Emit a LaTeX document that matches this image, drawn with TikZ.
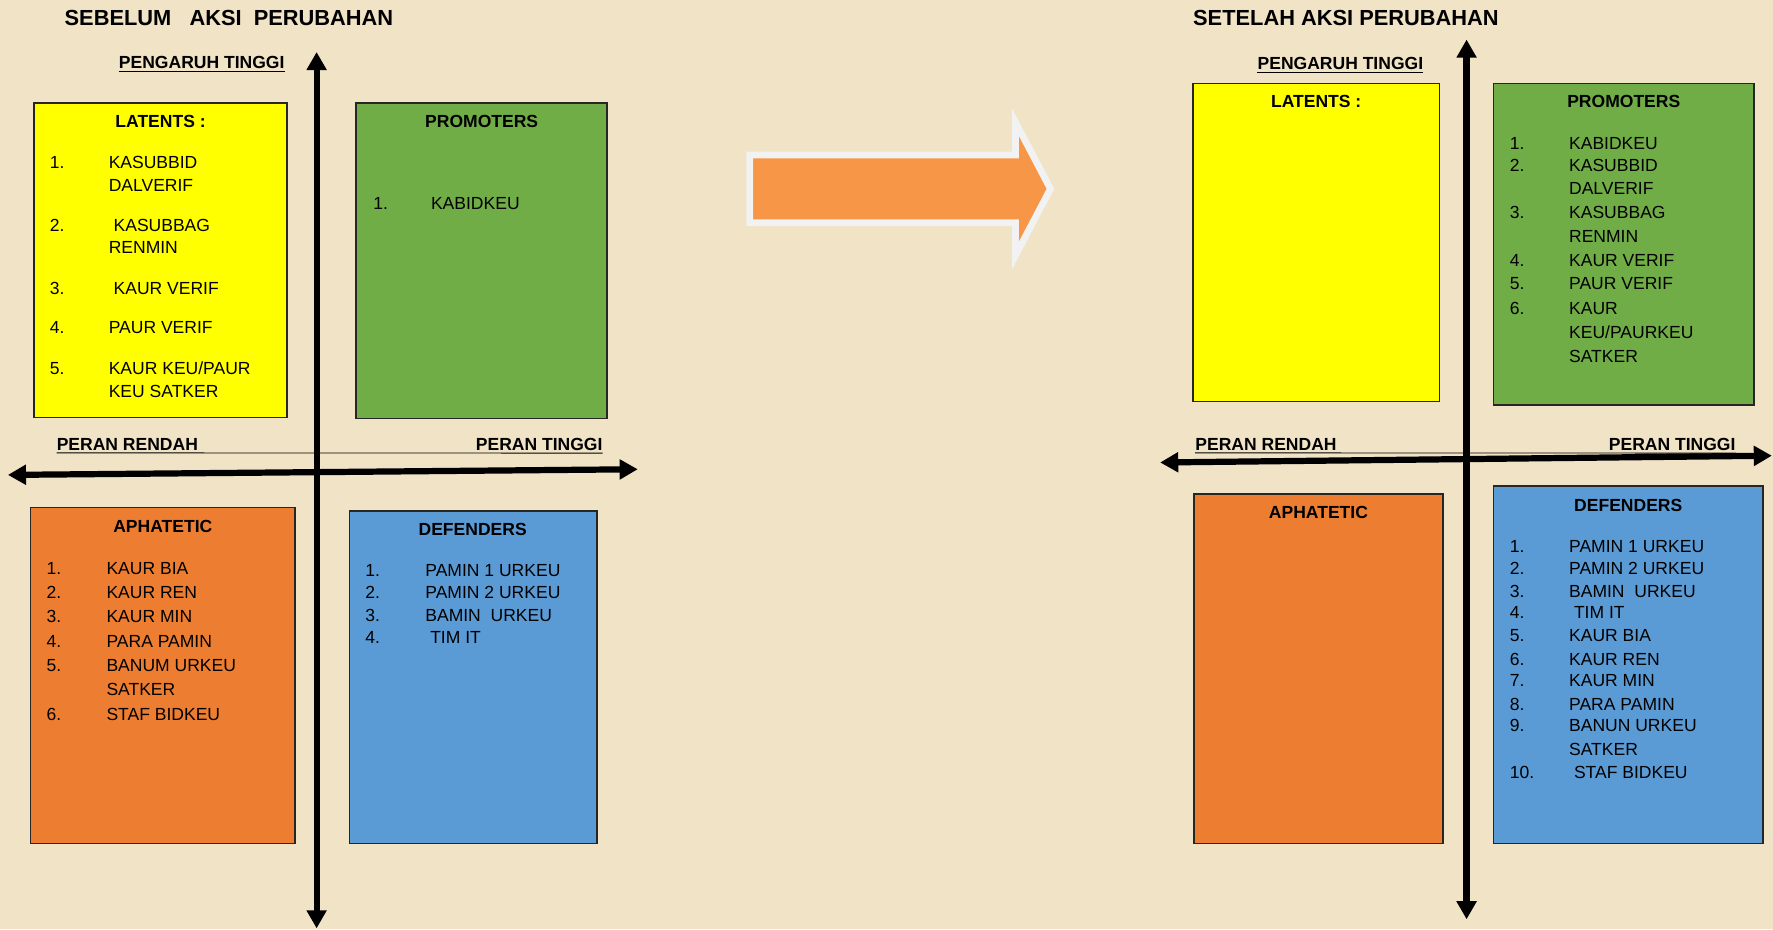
\documentclass[tikz,border=0pt]{standalone}
\usepackage{fontspec}
\setmainfont{Liberation Sans}
\usetikzlibrary{arrows.meta}

\definecolor{paper}{HTML}{F1E3C5}
\definecolor{latyellow}{HTML}{FFFF00}
\definecolor{promgreen}{HTML}{70AD47}
\definecolor{apaorange}{HTML}{ED7D31}
\definecolor{defblue}{HTML}{5B9BD5}
\definecolor{bigorange}{HTML}{F79646}
\definecolor{rim}{HTML}{F2F2F2}

\tikzset{
  quadbox/.style={draw=black!85, line width=1.3pt},
  heading/.style={font=\bfseries\fontsize{19.3}{22}\selectfont, anchor=west, inner sep=0pt},
  axislabel/.style={font=\bfseries\fontsize{15.5}{18}\selectfont, anchor=west, inner sep=0pt},
  boxtitle/.style={font=\bfseries\fontsize{15.5}{18}\selectfont, inner sep=0pt},
  entry/.style={font=\fontsize{15.5}{18}\selectfont, anchor=west, inner sep=0pt},
  axis/.style={line width=5.5pt, {Triangle[length=16pt,width=17pt]}-{Triangle[length=16pt,width=17pt]}},
}

\begin{document}
\begin{tikzpicture}[x=1pt, y=-1pt]
  \fill[paper] (0,0) rectangle (1568,822);
  \useasboundingbox (0,0) rectangle (1568,822);

  % ── Before: SEBELUM AKSI PERUBAHAN ──────────────────────────────
  \node[heading] (headA) at (57,16) {SEBELUM\ \ \ AKSI\ \ PERUBAHAN};
  \node[axislabel] (highA) at (105,55) {PENGARUH TINGGI};
  \draw[line width=1pt] ([yshift=-2.5pt]highA.south west) -- ([yshift=-2.5pt]highA.south east);

  \draw[quadbox, fill=latyellow] (30,91)  rectangle (254,369);
  \draw[quadbox, fill=promgreen] (315,91) rectangle (537,370);
  \draw[quadbox, fill=apaorange] (27,449) rectangle (261,746);
  \draw[quadbox, fill=defblue]   (309,452) rectangle (528,746);

  \node[boxtitle] (latA) at (142,107) {LATENTS :};
  \node[boxtitle] (proA) at (426,107) {PROMOTERS};
  \node[boxtitle] (apaA) at (144,466) {APHATETIC};
  \node[boxtitle] (defA) at (418,468) {DEFENDERS};

  \foreach \y/\n/\t in {144/1./KASUBBID, 164//DALVERIF, 199/2./\ KASUBBAG,
      219//RENMIN, 255/3./\ KAUR VERIF, 290/4./PAUR VERIF,
      326/5./{KAUR KEU/PAUR}, 346//KEU SATKER}
    \node[entry] (latA-\y) at (44,\y) {\makebox[52pt][l]{\n}\t};

  \node[entry] (proA-180) at (330,180) {\makebox[51pt][l]{1.}KABIDKEU};

  \foreach \y/\n/\t in {503/1./KAUR BIA, 524/2./KAUR REN, 545/3./KAUR MIN,
      567/4./PARA PAMIN, 589/5./BANUM URKEU, 610//SATKER, 632/6./STAF BIDKEU}
    \node[entry] (apaA-\y) at (41,\y) {\makebox[53pt][l]{\n}\t};

  \foreach \y/\n/\t in {505/1./PAMIN 1 URKEU, 524/2./PAMIN 2 URKEU,
      544/3./BAMIN\ \ URKEU, 564/4./\ TIM IT}
    \node[entry] (defA-\y) at (323,\y) {\makebox[53pt][l]{\n}\t};

  \node[axislabel] (lowRoleA) at (50,393) {PERAN RENDAH};
  \node[axislabel, anchor=east] (highRoleA) at (533,393) {PERAN TINGGI};
  \draw[line width=0.8pt] ([yshift=-2pt]lowRoleA.south west) -- ([yshift=-2pt]highRoleA.south east);

  \coordinate (topA)   at (280,46);
  \coordinate (botA)   at (280,821);
  \coordinate (leftA)  at (7,420);
  \coordinate (rightA) at (564,415);
  \draw[axis] (botA) -- (topA);
  \draw[axis] (leftA) -- (rightA);

  % ── Change arrow ─────────────────────────────────────────────────
  \draw[line width=6pt, draw=rim, fill=bigorange, line join=miter]
    (663,137) -- (898,137) -- (898,108) -- (929,167) -- (898,226)
    -- (898,197) -- (663,197) -- cycle;

  % ── After: SETELAH AKSI PERUBAHAN ───────────────────────────────
  \node[heading] (headB) at (1055,16) {SETELAH AKSI PERUBAHAN};
  \node[axislabel] (highB) at (1112,56) {PENGARUH TINGGI};
  \draw[line width=1pt] ([yshift=-2.5pt]highB.south west) -- ([yshift=-2.5pt]highB.south east);

  \draw[quadbox, fill=latyellow] (1055,74)  rectangle (1273,355);
  \draw[quadbox, fill=promgreen] (1321,74)  rectangle (1551,358);
  \draw[quadbox, fill=apaorange] (1056,437) rectangle (1276,746);
  \draw[quadbox, fill=defblue]   (1321,430) rectangle (1559,746);

  \node[boxtitle] (latB) at (1164,90) {LATENTS :};
  \node[boxtitle] (proB) at (1436,90) {PROMOTERS};
  \node[boxtitle] (apaB) at (1166,453) {APHATETIC};
  \node[boxtitle] (defB) at (1440,447) {DEFENDERS};

  \foreach \y/\n/\t in {127/1./KABIDKEU, 146/2./KASUBBID, 167//DALVERIF,
      188/3./KASUBBAG, 209//RENMIN, 230/4./KAUR VERIF, 251/5./PAUR VERIF,
      273/6./KAUR, 294//{KEU/PAURKEU}, 315//SATKER}
    \node[entry] (proB-\y) at (1335,\y) {\makebox[52.5pt][l]{\n}\t};

  \foreach \y/\n/\t in {483/1./PAMIN 1 URKEU, 503/2./PAMIN 2 URKEU,
      523/3./BAMIN\ \ URKEU, 542/4./\ TIM IT, 562/5./KAUR BIA, 583/6./KAUR REN,
      602/7./KAUR MIN, 623/8./PARA PAMIN, 642/9./BANUN URKEU, 663//SATKER,
      683/10./\ STAF BIDKEU}
    \node[entry] (defB-\y) at (1335,\y) {\makebox[52.5pt][l]{\n}\t};

  \node[axislabel] (lowRoleB) at (1057,393) {PERAN RENDAH};
  \node[axislabel, anchor=east] (highRoleB) at (1535,393) {PERAN TINGGI};
  \draw[line width=0.8pt] ([yshift=-2pt]lowRoleB.south west) -- ([yshift=-2pt]highRoleB.south east);

  \coordinate (topB)   at (1297,35);
  \coordinate (botB)   at (1297,813);
  \coordinate (leftB)  at (1026,409);
  \coordinate (rightB) at (1567,403);
  \draw[axis] (botB) -- (topB);
  \draw[axis] (leftB) -- (rightB);
\end{tikzpicture}
\end{document}
